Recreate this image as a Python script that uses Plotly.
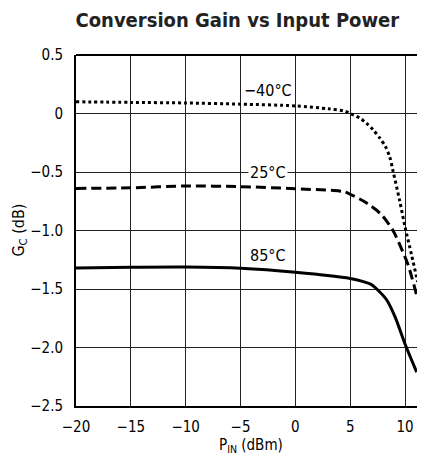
import plotly.graph_objects as go

# ---- data ----
x_m40 = [-20, -15, -10, -5, 0, 3, 4.5, 5.0, 5.9, 6.5, 7.1, 7.7, 8.2, 8.6, 8.9, 9.5, 10.0, 10.6, 11.15]
y_m40 = [0.10, 0.095, 0.09, 0.08, 0.065, 0.04, 0.02, 0.0, -0.04, -0.085, -0.14, -0.21, -0.28, -0.37, -0.49, -0.74, -0.97, -1.21, -1.44]

x_25 = [-20, -15, -10, -5, 0, 4, 4.5, 5, 6.5, 7.8, 8.9, 9.65, 10.3, 11.05]
y_25 = [-0.64, -0.635, -0.62, -0.625, -0.643, -0.662, -0.67, -0.69, -0.765, -0.86, -1.0, -1.15, -1.30, -1.55]

x_85 = [-20, -15, -10, -5, 0, 5, 6.2, 6.9, 7.42, 8.33, 9.1, 10.0, 11.06]
y_85 = [-1.32, -1.315, -1.313, -1.323, -1.357, -1.41, -1.437, -1.46, -1.50, -1.594, -1.74, -1.97, -2.21]

x_ticks = [-20, -15, -10, -5, 0, 5, 10]
x_ticktext = ["\u221220", "\u221215", "\u221210", "\u22125", "0", "5", "10"]
y_ticks = [0.5, 0, -0.5, -1.0, -1.5, -2.0, -2.5]
y_ticktext = ["0.5", "0", "\u22120.5", "\u22121.0", "\u22121.5", "\u22122.0", "\u22122.5"]

labels = ["\u221240\u00b0C", "25\u00b0C", "85\u00b0C"]
label_x = [-2.5, -2.5, -2.5]
label_y = [0.20, -0.5, -1.21]

FONT = "DejaVu Sans Condensed, Liberation Sans Narrow, sans-serif"

fig = go.Figure()
fig.add_trace(go.Scatter(x=x_m40, y=y_m40, mode="lines", line=dict(color="black", width=3, dash="dot", shape="spline", smoothing=0.8)))
fig.add_trace(go.Scatter(x=x_25, y=y_25, mode="lines", line=dict(color="black", width=3, dash="10px,5px", shape="spline", smoothing=0.8)))
fig.add_trace(go.Scatter(x=x_85, y=y_85, mode="lines", line=dict(color="black", width=3, shape="spline", smoothing=0.8)))

for t, lx, ly in zip(labels, label_x, label_y):
    fig.add_annotation(x=lx, y=ly, xref="x", yref="y", text=t, showarrow=False,
                       font=dict(family=FONT, size=16, color="black"),
                       bgcolor="white", borderpad=1)

fig.add_annotation(x=0.5, y=-0.112, xref="paper", yref="paper", text="P<sub>IN</sub> (dBm)",
                   showarrow=False, font=dict(family=FONT, size=15, color="black"),
                   xanchor="center", yanchor="middle")
fig.add_annotation(x=-0.163, y=0.5, xref="paper", yref="paper", text="G<sub>C</sub> (dB)",
                   showarrow=False, textangle=-90, font=dict(family=FONT, size=16, color="black"),
                   xanchor="center", yanchor="middle")

fig.update_layout(
    width=417, height=455,
    margin=dict(l=68, r=0, t=47, b=57),
    paper_bgcolor="white", plot_bgcolor="white",
    showlegend=False,
    title=dict(text="<b>Conversion Gain vs Input Power</b>", x=0.550, y=0.974,
               xanchor="center", yanchor="middle", font=dict(family=FONT, size=20, color="#222")),
    xaxis=dict(range=[-20, 11.82], tickvals=x_ticks, ticktext=x_ticktext,
               showgrid=True, gridcolor="#222", gridwidth=1, zeroline=False,
               showline=True, linecolor="black", linewidth=2, mirror=False,
               ticks="", ticklabelstandoff=6,
               tickfont=dict(family=FONT, size=15, color="black")),
    yaxis=dict(range=[-2.5, 0.5], tickvals=y_ticks, ticktext=y_ticktext,
               showgrid=True, gridcolor="#222", gridwidth=1, zeroline=False,
               showline=True, linecolor="black", linewidth=2, mirror=False,
               ticks="", ticklabelstandoff=8,
               tickfont=dict(family=FONT, size=15, color="black")),
)
# top border
fig.add_shape(type="line", xref="paper", yref="paper", x0=0, x1=1, y0=1, y1=1,
              line=dict(color="black", width=2))

fig.write_html("out.html")
